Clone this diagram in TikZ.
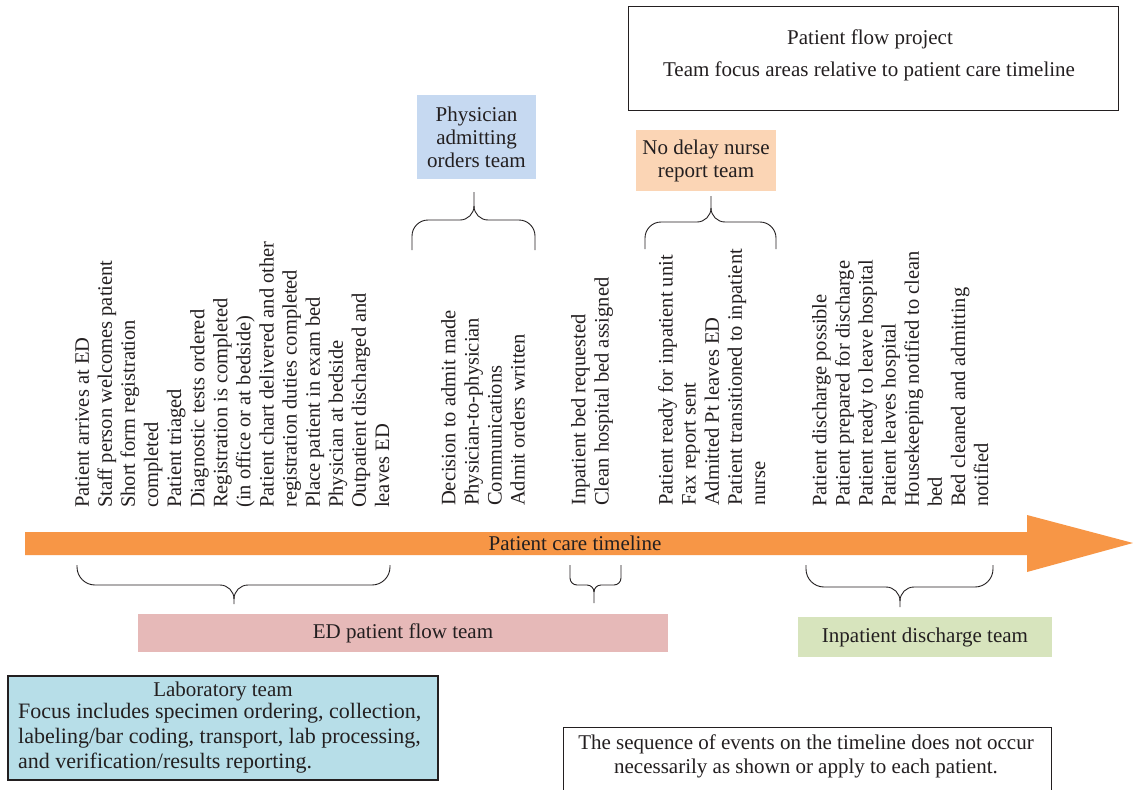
\documentclass[tikz,border=0pt]{standalone}
\usepackage{fontspec}
\setmainfont{Liberation Serif}
\definecolor{arroworange}{HTML}{F79646}
\definecolor{physblue}{HTML}{C6D9F1}
\definecolor{nursepeach}{HTML}{FBD5B5}
\definecolor{edpink}{HTML}{E6B9B8}
\definecolor{dischgreen}{HTML}{D7E4BD}
\definecolor{labblue}{HTML}{B7DEE8}
\definecolor{inkc}{HTML}{231F20}
% #1 L, #2 R, #3 M, #4 yEnd, #5 yMid, #6 yTip, #7 sign, #8 end radius, #9 tip radius
\newcommand\teambrace[9]{%
  \draw[bracepath] (#1,#4) -- (#1,{#5+#7*#8}) .. controls (#1,{#5+#7*#8*0.45}) and ({#1+#8*0.45},#5) .. ({#1+#8},#5)
    -- ({#3-#9},#5) .. controls ({#3-#9*0.45},#5) and (#3,{#5-#7*#9*0.45}) .. (#3,{#5-#7*#9}) -- (#3,#6);
  \draw[bracepath] (#3,{#5-#7*#9}) .. controls (#3,{#5-#7*#9*0.45}) and ({#3+#9*0.45},#5) .. ({#3+#9},#5)
    -- ({#2-#8},#5) .. controls ({#2-#8*0.45},#5) and (#2,{#5+#7*#8*0.45}) .. (#2,{#5+#7*#8}) -- (#2,#4);
}
\begin{document}
\begin{tikzpicture}[x=1pt,y=-1pt,
  every node/.style={text=inkc},
  vtext/.style={rotate=90, anchor=north west, align=left, inner sep=0pt, font=\fontsize{20.5}{23.1}\selectfont},
  boxtext/.style={inner sep=0pt, align=center, font=\fontsize{21}{23}\selectfont},
  bracepath/.style={draw=inkc, line width=0.9pt},
]
\useasboundingbox (0,0) rectangle (1133,790);
\fill[white] (0,0) rectangle (1133,790);

% title box
\node[draw=inkc, line width=0.8pt, minimum width=490pt, minimum height=104pt, inner sep=0pt] (proj) at (873,58) {};
\node[boxtext] (projt1) at (870,39) {Patient flow project};
\node[boxtext] (projt2) at (869,71) {Team focus areas relative to patient care timeline};

% top team boxes
\node[boxtext, fill=physblue, minimum width=119pt, minimum height=84pt] (phys) at (476.5,137) {Physician\\admitting\\orders team};
\node[boxtext, fill=nursepeach, minimum width=140pt, minimum height=61pt] (nurse) at (706,160.5) {No delay nurse\\report team};

% braces above the events
\teambrace{412}{535}{474}{250}{220}{192}{1}{16}{14}
\teambrace{645}{776}{711}{249}{222}{196}{1}{16}{14}

% event columns
\node[vtext] (evA) at (75,508) {Patient arrives at ED\\Staff person welcomes patient\\Short form registration\\completed\\Patient triaged\\Diagnostic tests ordered\\Registration is completed\\(in office or at bedside)\\Patient chart delivered and other\\registration duties completed\\Place patient in exam bed\\Physician at bedside\\Outpatient discharged and\\leaves ED};
\node[vtext] (evB) at (441,506) {Decision to admit made\\Physician-to-physician\\Communications\\Admit orders written};
\node[vtext] (evC) at (571,506) {Inpatient bed requested\\Clean hospital bed assigned};
\node[vtext] (evD) at (658,506) {Patient ready for inpatient unit\\Fax report sent\\Admitted Pt leaves ED\\Patient transitioned to inpatient\\nurse};
\node[vtext] (evE) at (812,507) {Patient discharge possible\\Patient prepared for discharge\\Patient ready to leave hospital\\Patient leaves hospital\\Housekeeping notified to clean\\bed\\Bed cleaned and admitting\\notified};

% timeline arrow
\fill[arroworange] (25,532) -- (1027,532) -- (1027,515) -- (1133,543) -- (1027,572) -- (1027,555) -- (25,555) -- cycle;
\node[boxtext] (tl) at (575,543) {Patient care timeline};

% braces below the timeline
\teambrace{77}{390}{234}{565}{585}{604}{-1}{18}{14}
\teambrace{570}{621}{594}{565}{585}{603}{-1}{7}{7}
\teambrace{806}{993}{900}{565}{587}{607}{-1}{18}{14}

% bottom team boxes
\node[boxtext, fill=edpink, minimum width=530pt, minimum height=38pt] (ed) at (403,633) {ED patient flow team};
\node[boxtext, fill=dischgreen, minimum width=254pt, minimum height=40pt] (disch) at (925,637) {Inpatient discharge team};

% laboratory box
\node[draw=inkc, line width=1.4pt, fill=labblue, minimum width=430pt, minimum height=104pt, inner sep=0pt] (lab) at (223,728) {};
\node[boxtext] (labt) at (223,691) {Laboratory team};
\node[inner sep=0pt, anchor=north west, align=left, font=\fontsize{22}{25}\selectfont] (labb) at (18,703) {Focus includes specimen ordering, collection,\\labeling/bar coding, transport, lab processing,\\and verification/results reporting.};

% note box
\node[draw=inkc, line width=0.8pt, minimum width=488pt, minimum height=66pt, inner sep=0pt] (note) at (807,760) {};
\node[inner sep=0pt, align=center, font=\fontsize{21}{24}\selectfont] (notet) at (806,756) {The sequence of events on the timeline does not occur\\necessarily as shown or apply to each patient.};
\end{tikzpicture}
\end{document}
